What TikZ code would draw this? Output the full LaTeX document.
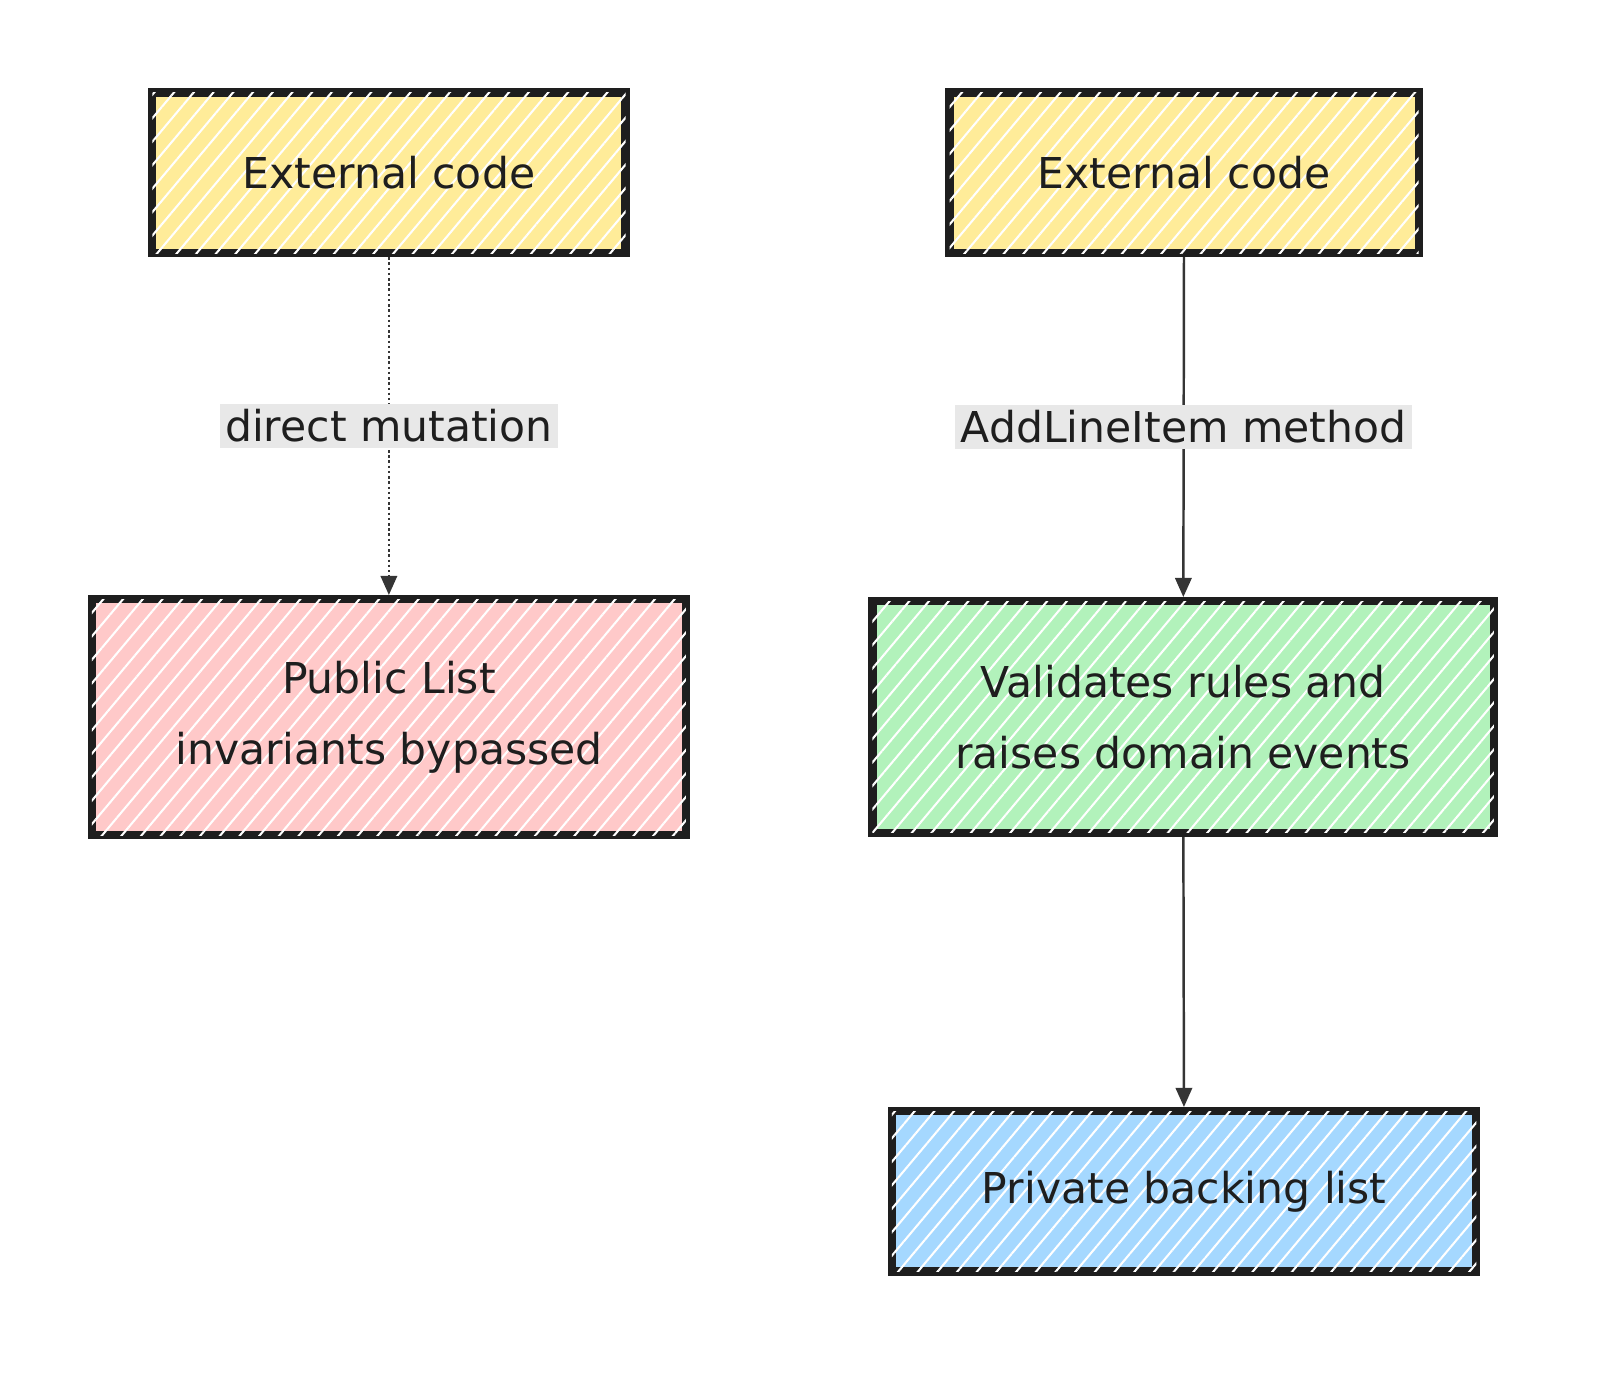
\documentclass[tikz,border=0pt]{standalone}
\usepackage{fontspec}
\setmainfont{DejaVu Sans}
\usetikzlibrary{patterns.meta,arrows.meta}
\definecolor{extfill}{HTML}{FFEC99}
\definecolor{badfill}{HTML}{FFC9C9}
\definecolor{okfill}{HTML}{B2F2BB}
\definecolor{listfill}{HTML}{A5D8FF}
\definecolor{ink}{HTML}{1E1E1E}
\definecolor{lblfill}{HTML}{E8E8E8}
\tikzset{
  box/.style={draw=ink, line width=6pt, align=center, text=ink, font=\fontsize{31}{52}\selectfont,
    postaction={pattern={Lines[angle=50,distance=11pt,line width=1.5pt]}, pattern color=white}},
  lbl/.style={fill=lblfill, text=ink, font=\fontsize{31}{36}\selectfont, inner sep=4pt},
  conn/.style={draw=ink!90, line width=1.8pt, -{Triangle[length=14pt,width=12pt]}}
}
\begin{document}
\begin{tikzpicture}[x=0.75pt,y=0.75pt,yscale=-1,xscale=1]

    % Text Node
    \node[box, fill=extfill, minimum width=345pt, minimum height=117pt] (ext1) at (378,168) {External code};
    % Text Node
    \node[box, fill=extfill, minimum width=342pt, minimum height=117pt] (ext2) at (1151,168) {External code};
    % Text Node
    \node[box, fill=badfill, minimum width=433pt, minimum height=172pt] (pub) at (378,697) {Public List\\invariants bypassed};
    % Text Node
    \node[box, fill=okfill, minimum width=453pt, minimum height=169pt] (val) at (1150,697) {Validates rules and\\raises domain events};
    % Text Node
    \node[box, fill=listfill, minimum width=426pt, minimum height=117pt] (priv) at (1151,1158) {Private backing list};

    % Connection
    \draw[conn, dotted] (ext1) -- node[lbl, solid] {direct mutation} (pub);
    % Connection
    \draw[conn] (ext2) -- node[lbl] {AddLineItem method} (val);
    % Connection
    \draw[conn] (val) -- (priv);

    \pgfresetboundingbox
    \path (0,0) rectangle (1563,1341);
\end{tikzpicture}
\end{document}
